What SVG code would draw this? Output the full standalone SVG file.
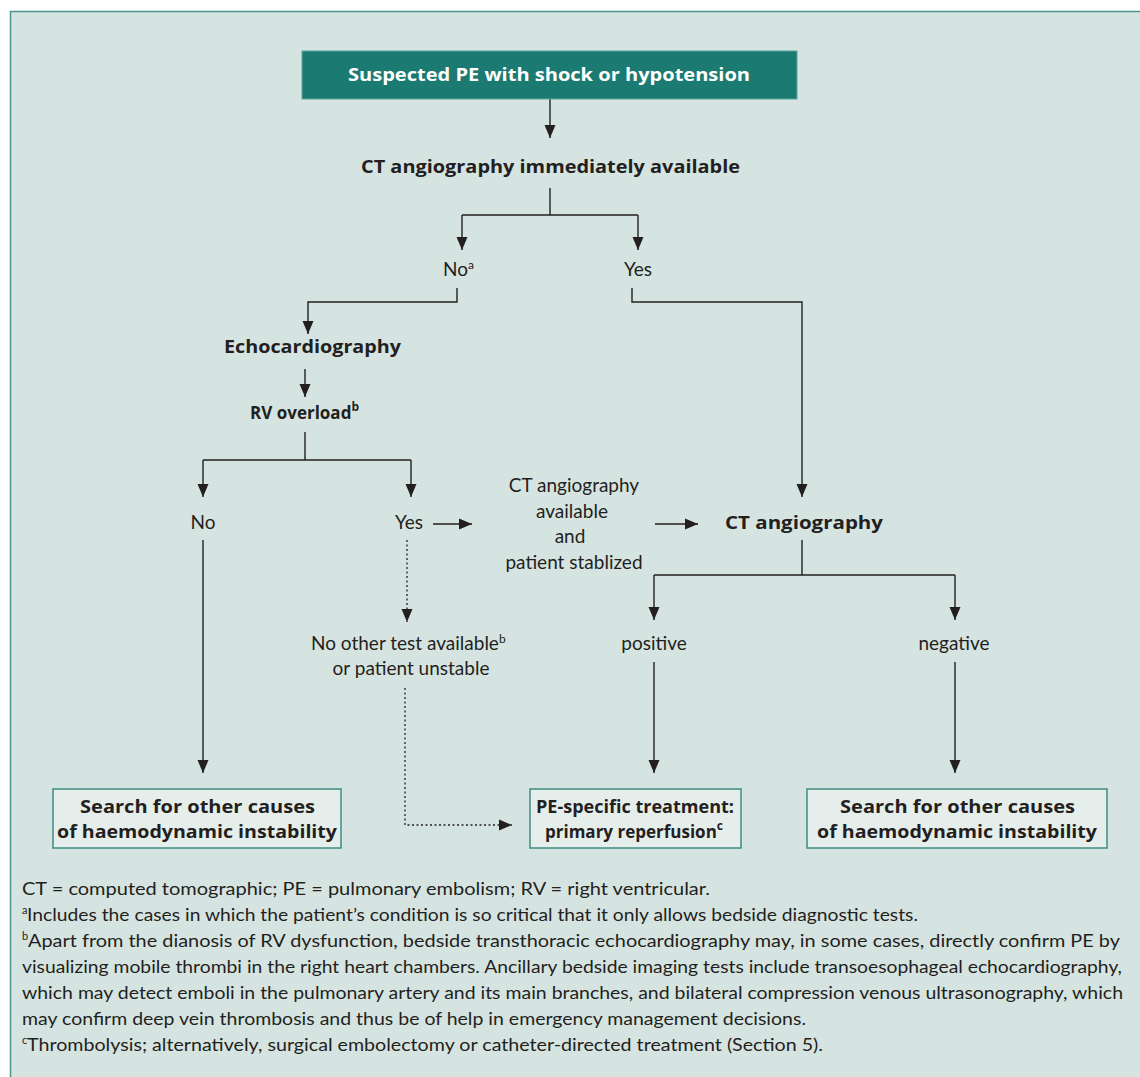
<svg xmlns="http://www.w3.org/2000/svg" width="1140" height="1077" viewBox="0 0 1140 1077">
  <style>
    .flow { font-family: Lato, "Open Sans", "Liberation Sans", sans-serif; fill: #231f20; font-size: 19px; }
    .b { font-family: "Open Sans", Lato, "Liberation Sans", sans-serif; font-weight: 700; font-size: 18px; }
    .b17 { font-size: 17px; }
    .head { font-family: "Open Sans", Lato, "Liberation Sans", sans-serif; fill: #ffffff; font-size: 18px; font-weight: 700; }
    .note { font-family: Lato, "Open Sans", "Liberation Sans", sans-serif; fill: #231f20; font-size: 17px; }
    .sup { font-size: 12px; }
    .nsup { font-family: Lato, "Open Sans", "Liberation Sans", sans-serif; fill: #231f20; font-size: 11px; }
    .ln { fill: none; stroke: #231f20; stroke-width: 1.4; }
    .dot { fill: none; stroke: #231f20; stroke-width: 1.3; stroke-dasharray: 2 2.5; }
    .box { fill: #e6eeec; stroke: #3d8c84; stroke-width: 1.5; }
  </style>
  <defs>
    <marker id="arr" markerUnits="userSpaceOnUse" markerWidth="14" markerHeight="14" viewBox="0 0 14 14" refX="13" refY="7" orient="auto">
      <path d="M0,1.5 L13,7 L0,12.5 Z" fill="#231f20"/>
    </marker>
  </defs>

  <!-- panel background -->
  <rect x="0" y="0" width="1140" height="1077" fill="#ffffff"/>
  <rect x="10.5" y="11.5" width="1140" height="1080" fill="#d6e4e1" stroke="#4a978e" stroke-width="1.5"/>

  <!-- connectors -->
  <g id="connectors">
    <path class="ln" d="M550,99 V138" marker-end="url(#arr)"/>
    <path class="ln" d="M550,188 V215 M462,215 H638"/>
    <path class="ln" d="M462,215 V250" marker-end="url(#arr)"/>
    <path class="ln" d="M638,215 V250" marker-end="url(#arr)"/>
    <path class="ln" d="M457,288 V302 H308 V334" marker-end="url(#arr)"/>
    <path class="ln" d="M632,288 V302 H802 V497" marker-end="url(#arr)"/>
    <path class="ln" d="M305,369 V397" marker-end="url(#arr)"/>
    <path class="ln" d="M305,432 V460 M203,460 H411"/>
    <path class="ln" d="M203,460 V497" marker-end="url(#arr)"/>
    <path class="ln" d="M411,460 V497" marker-end="url(#arr)"/>
    <path class="ln" d="M433,524 H472" marker-end="url(#arr)"/>
    <path class="ln" d="M655,524 H698" marker-end="url(#arr)"/>
    <path class="ln" d="M203,540 V773" marker-end="url(#arr)"/>
    <path class="dot" d="M407,540 V622" marker-end="url(#arr)"/>
    <path class="dot" d="M405,688 V825 H512" marker-end="url(#arr)"/>
    <path class="ln" d="M802,540 V575 M654,575 H955"/>
    <path class="ln" d="M654,575 V620" marker-end="url(#arr)"/>
    <path class="ln" d="M955,575 V620" marker-end="url(#arr)"/>
    <path class="ln" d="M654,662 V773" marker-end="url(#arr)"/>
    <path class="ln" d="M955,662 V773" marker-end="url(#arr)"/>
  </g>

  <!-- nodes -->
  <g id="start">
    <rect x="302" y="51" width="495" height="48" fill="#1b7a72" stroke="#5aa69c" stroke-width="1"/>
    <text class="head" x="348" y="81" textLength="402" lengthAdjust="spacingAndGlyphs">Suspected PE with shock or hypotension</text>
  </g>
  <g id="ct-available">
    <text class="flow b" x="361" y="173" textLength="379" lengthAdjust="spacingAndGlyphs">CT angiography immediately available</text>
  </g>
  <g id="no-a">
    <text class="flow" x="443" y="276">No<tspan class="sup" dy="-7">a</tspan></text>
  </g>
  <g id="yes-top">
    <text class="flow" x="638" y="276" text-anchor="middle">Yes</text>
  </g>
  <g id="echo">
    <text class="flow b" x="224" y="353" textLength="177" lengthAdjust="spacingAndGlyphs">Echocardiography</text>
  </g>
  <g id="rv-overload">
    <text class="flow b b17" x="250" y="419">RV overload<tspan class="sup" dy="-8">b</tspan></text>
  </g>
  <g id="no-rv">
    <text class="flow" x="203" y="529" text-anchor="middle">No</text>
  </g>
  <g id="yes-rv">
    <text class="flow" x="409" y="529" text-anchor="middle">Yes</text>
  </g>
  <g id="ct-stabilized">
    <text class="flow" x="574" y="492" text-anchor="middle">CT angiography</text>
    <text class="flow" x="572" y="518" text-anchor="middle">available</text>
    <text class="flow" x="570" y="543" text-anchor="middle">and</text>
    <text class="flow" x="574" y="569" text-anchor="middle">patient stablized</text>
  </g>
  <g id="ct-angio">
    <text class="flow b" x="725" y="529" textLength="158" lengthAdjust="spacingAndGlyphs">CT angiography</text>
  </g>
  <g id="no-other-test">
    <text class="flow" x="311" y="650">No other test available<tspan class="sup" dy="-7">b</tspan></text>
    <text class="flow" x="411" y="675" text-anchor="middle">or patient unstable</text>
  </g>
  <g id="positive">
    <text class="flow" x="654" y="650" text-anchor="middle">positive</text>
  </g>
  <g id="negative">
    <text class="flow" x="954" y="650" text-anchor="middle">negative</text>
  </g>
  <g id="search-left">
    <rect class="box" x="53" y="789" width="288" height="59"/>
    <text class="flow b" x="80" y="813" textLength="235" lengthAdjust="spacingAndGlyphs">Search for other causes</text>
    <text class="flow b" x="57" y="838" textLength="280" lengthAdjust="spacingAndGlyphs">of haemodynamic instability</text>
  </g>
  <g id="pe-treatment">
    <rect class="box" x="530" y="789" width="211" height="59"/>
    <text class="flow b" x="536" y="813" textLength="198" lengthAdjust="spacingAndGlyphs">PE-specific treatment:</text>
    <text class="flow b b17" x="545" y="838">primary reperfusion<tspan class="sup" dy="-8">c</tspan></text>
  </g>
  <g id="search-right">
    <rect class="box" x="807" y="789" width="300" height="59"/>
    <text class="flow b" x="840" y="813" textLength="235" lengthAdjust="spacingAndGlyphs">Search for other causes</text>
    <text class="flow b" x="817" y="838" textLength="280" lengthAdjust="spacingAndGlyphs">of haemodynamic instability</text>
  </g>

  <!-- footnotes -->
  <g id="footnotes">
    <text class="note" x="22" y="895" textLength="688" lengthAdjust="spacingAndGlyphs">CT = computed tomographic; PE = pulmonary embolism; RV = right ventricular.</text>
    <text class="nsup" x="22" y="914">a</text>
    <text class="note" x="27" y="921" textLength="891" lengthAdjust="spacingAndGlyphs">Includes the cases in which the patient’s condition is so critical that it only allows bedside diagnostic tests.</text>
    <text class="nsup" x="22" y="940">b</text>
    <text class="note" x="28" y="947" textLength="1092" lengthAdjust="spacingAndGlyphs">Apart from the dianosis of RV dysfunction, bedside transthoracic echocardiography may, in some cases, directly confirm PE by</text>
    <text class="note" x="22" y="973" textLength="1100" lengthAdjust="spacingAndGlyphs">visualizing mobile thrombi in the right heart chambers. Ancillary bedside imaging tests include transoesophageal echocardiography,</text>
    <text class="note" x="22" y="999" textLength="1101" lengthAdjust="spacingAndGlyphs">which may detect emboli in the pulmonary artery and its main branches, and bilateral compression venous ultrasonography, which</text>
    <text class="note" x="22" y="1025" textLength="784" lengthAdjust="spacingAndGlyphs">may confirm deep vein thrombosis and thus be of help in emergency management decisions.</text>
    <text class="nsup" x="22" y="1044">c</text>
    <text class="note" x="27" y="1051" textLength="796" lengthAdjust="spacingAndGlyphs">Thrombolysis; alternatively, surgical embolectomy or catheter-directed treatment (Section 5).</text>
  </g>
</svg>
